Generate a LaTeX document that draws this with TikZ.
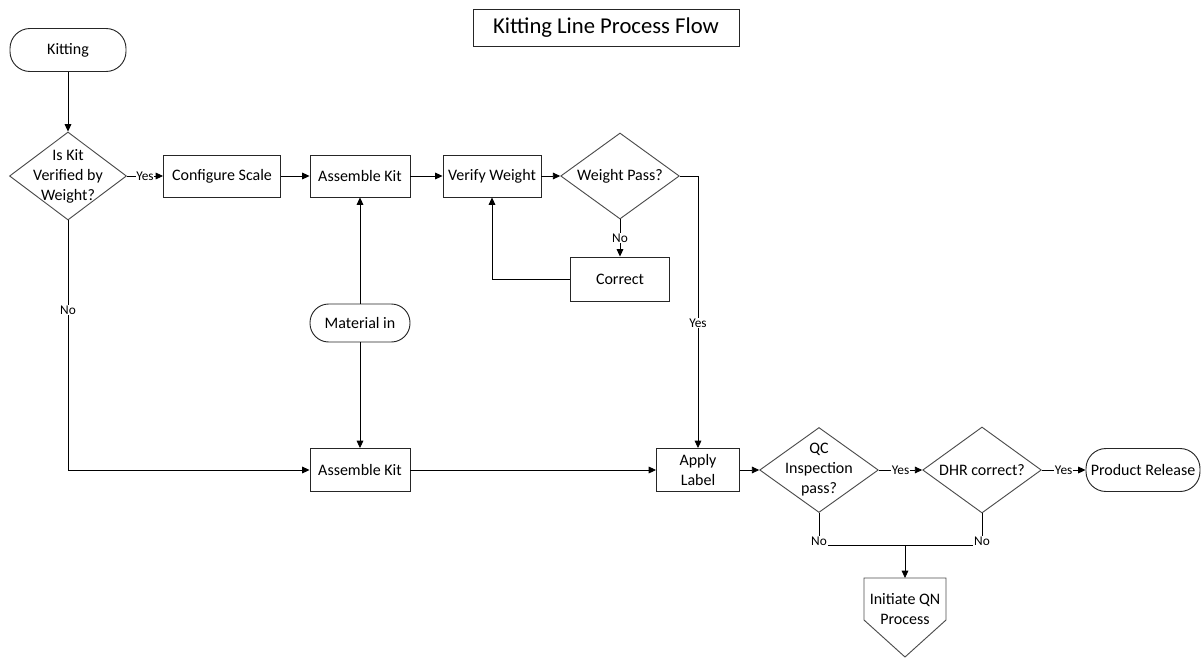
\documentclass[tikz,border=0pt]{standalone}
\usepackage{fontspec}
\setmainfont{Carlito}
\usetikzlibrary{shapes.geometric,arrows.meta}

\begin{document}
\begin{tikzpicture}[x=0.75pt,y=-0.75pt,
    every node/.style={font=\fontsize{12}{15}\selectfont, text=black},
    proc/.style={draw=black!85, line width=0.7pt, minimum height=31.5pt, align=center, inner sep=1pt},
    term/.style={proc, rounded corners=15pt},
    decide/.style={diamond, draw=black!70, line width=0.7pt, inner sep=0pt, minimum width=89pt, minimum height=64.5pt},
    dtext/.style={align=center, font=\fontsize{12}{15}\selectfont},
    lbl/.style={fill=white, inner sep=0.6pt, font=\fontsize{10}{11}\selectfont},
    arr/.style={line width=0.6pt, -{Triangle[length=5.5pt,width=5pt]}},
    link/.style={line width=0.6pt}]
    \useasboundingbox (0,0) rectangle (1203,657);
    % title
    \node (title) at (606, 28) [draw=black!85, line width=0.7pt, minimum width=199.5pt, minimum height=27.75pt, font=\fontsize{17}{20}\selectfont] {Kitting Line Process Flow};
    % top row
    \node (kit) at (68, 50) [term, minimum width=87pt, minimum height=32.25pt] {Kitting};
    \node (d1) at (68, 176) [decide, minimum width=87.75pt, minimum height=66pt, label={[dtext]center:Is Kit\\Verified by\\Weight?}] {};
    \node (cfg) at (222, 176) [proc, minimum width=87.75pt] {Configure Scale};
    \node (ak1) at (360, 176) [proc, minimum width=75pt] {Assemble Kit};
    \node (vw) at (492, 176) [proc, minimum width=73.5pt] {Verify Weight};
    \node (wp) at (620, 176) [decide, label={[dtext]center:Weight Pass?}] {};
    \node (cor) at (620, 279) [proc, minimum width=74.25pt, minimum height=33pt] {Correct};
    \node (mat) at (360, 323) [term, minimum width=75pt, minimum height=28.5pt, rounded corners=14pt] {Material in};
    % bottom row
    \node (ak2) at (360, 470) [proc, minimum width=75pt, minimum height=32.25pt] {Assemble Kit};
    \node (al) at (698, 470) [proc, minimum width=62.25pt, minimum height=32.25pt] {Apply\\Label};
    \node (qc) at (819, 470) [decide, minimum height=63.75pt, label={[dtext]center:QC\\Inspection\\pass?}] {};
    \node (dhr) at (982, 470) [decide, label={[dtext]center:DHR correct?}] {};
    \node (pr) at (1143, 470) [term, minimum width=85.5pt, minimum height=32.25pt] {Product Release};
    % off-page connector
    \node (qn) at (905, 609) [align=center] {Initiate QN\\Process};
    \draw [draw=black!70, line width=0.7pt] (864, 578) -- (946, 578) -- (946, 620) -- (905, 657) -- (864, 620) -- cycle;
    \coordinate (qntop) at (905, 578);
    \coordinate (junc) at (905, 545);

    \draw [arr] (kit) -- (d1);
    \draw [arr] (d1) -- node[lbl] {Yes} (cfg);
    \draw [arr] (cfg) -- (ak1);
    \draw [arr] (ak1) -- (vw);
    \draw [arr] (vw) -- (wp);
    \draw [arr] (wp) -- node[lbl] {No} (cor);
    \draw [arr] (cor) -| (vw);
    \draw [arr] (wp) -| node[lbl, pos=0.77] {Yes} (al);
    \draw [arr] (d1) |- node[lbl, pos=0.18] {No} (ak2);
    \draw [arr] (mat) -- (ak1);
    \draw [arr] (mat) -- (ak2);
    \draw [arr] (ak2) -- (al);
    \draw [arr] (al) -- (qc);
    \draw [arr] (qc) -- node[lbl] {Yes} (dhr);
    \draw [arr] (dhr) -- node[lbl] {Yes} (pr);
    \draw [link] (qc) |- node[lbl, yshift=3pt] {No} (junc);
    \draw [link] (dhr) |- node[lbl, yshift=3pt] {No} (junc);
    \draw [arr] (junc) -- (qntop);
\end{tikzpicture}
\end{document}
